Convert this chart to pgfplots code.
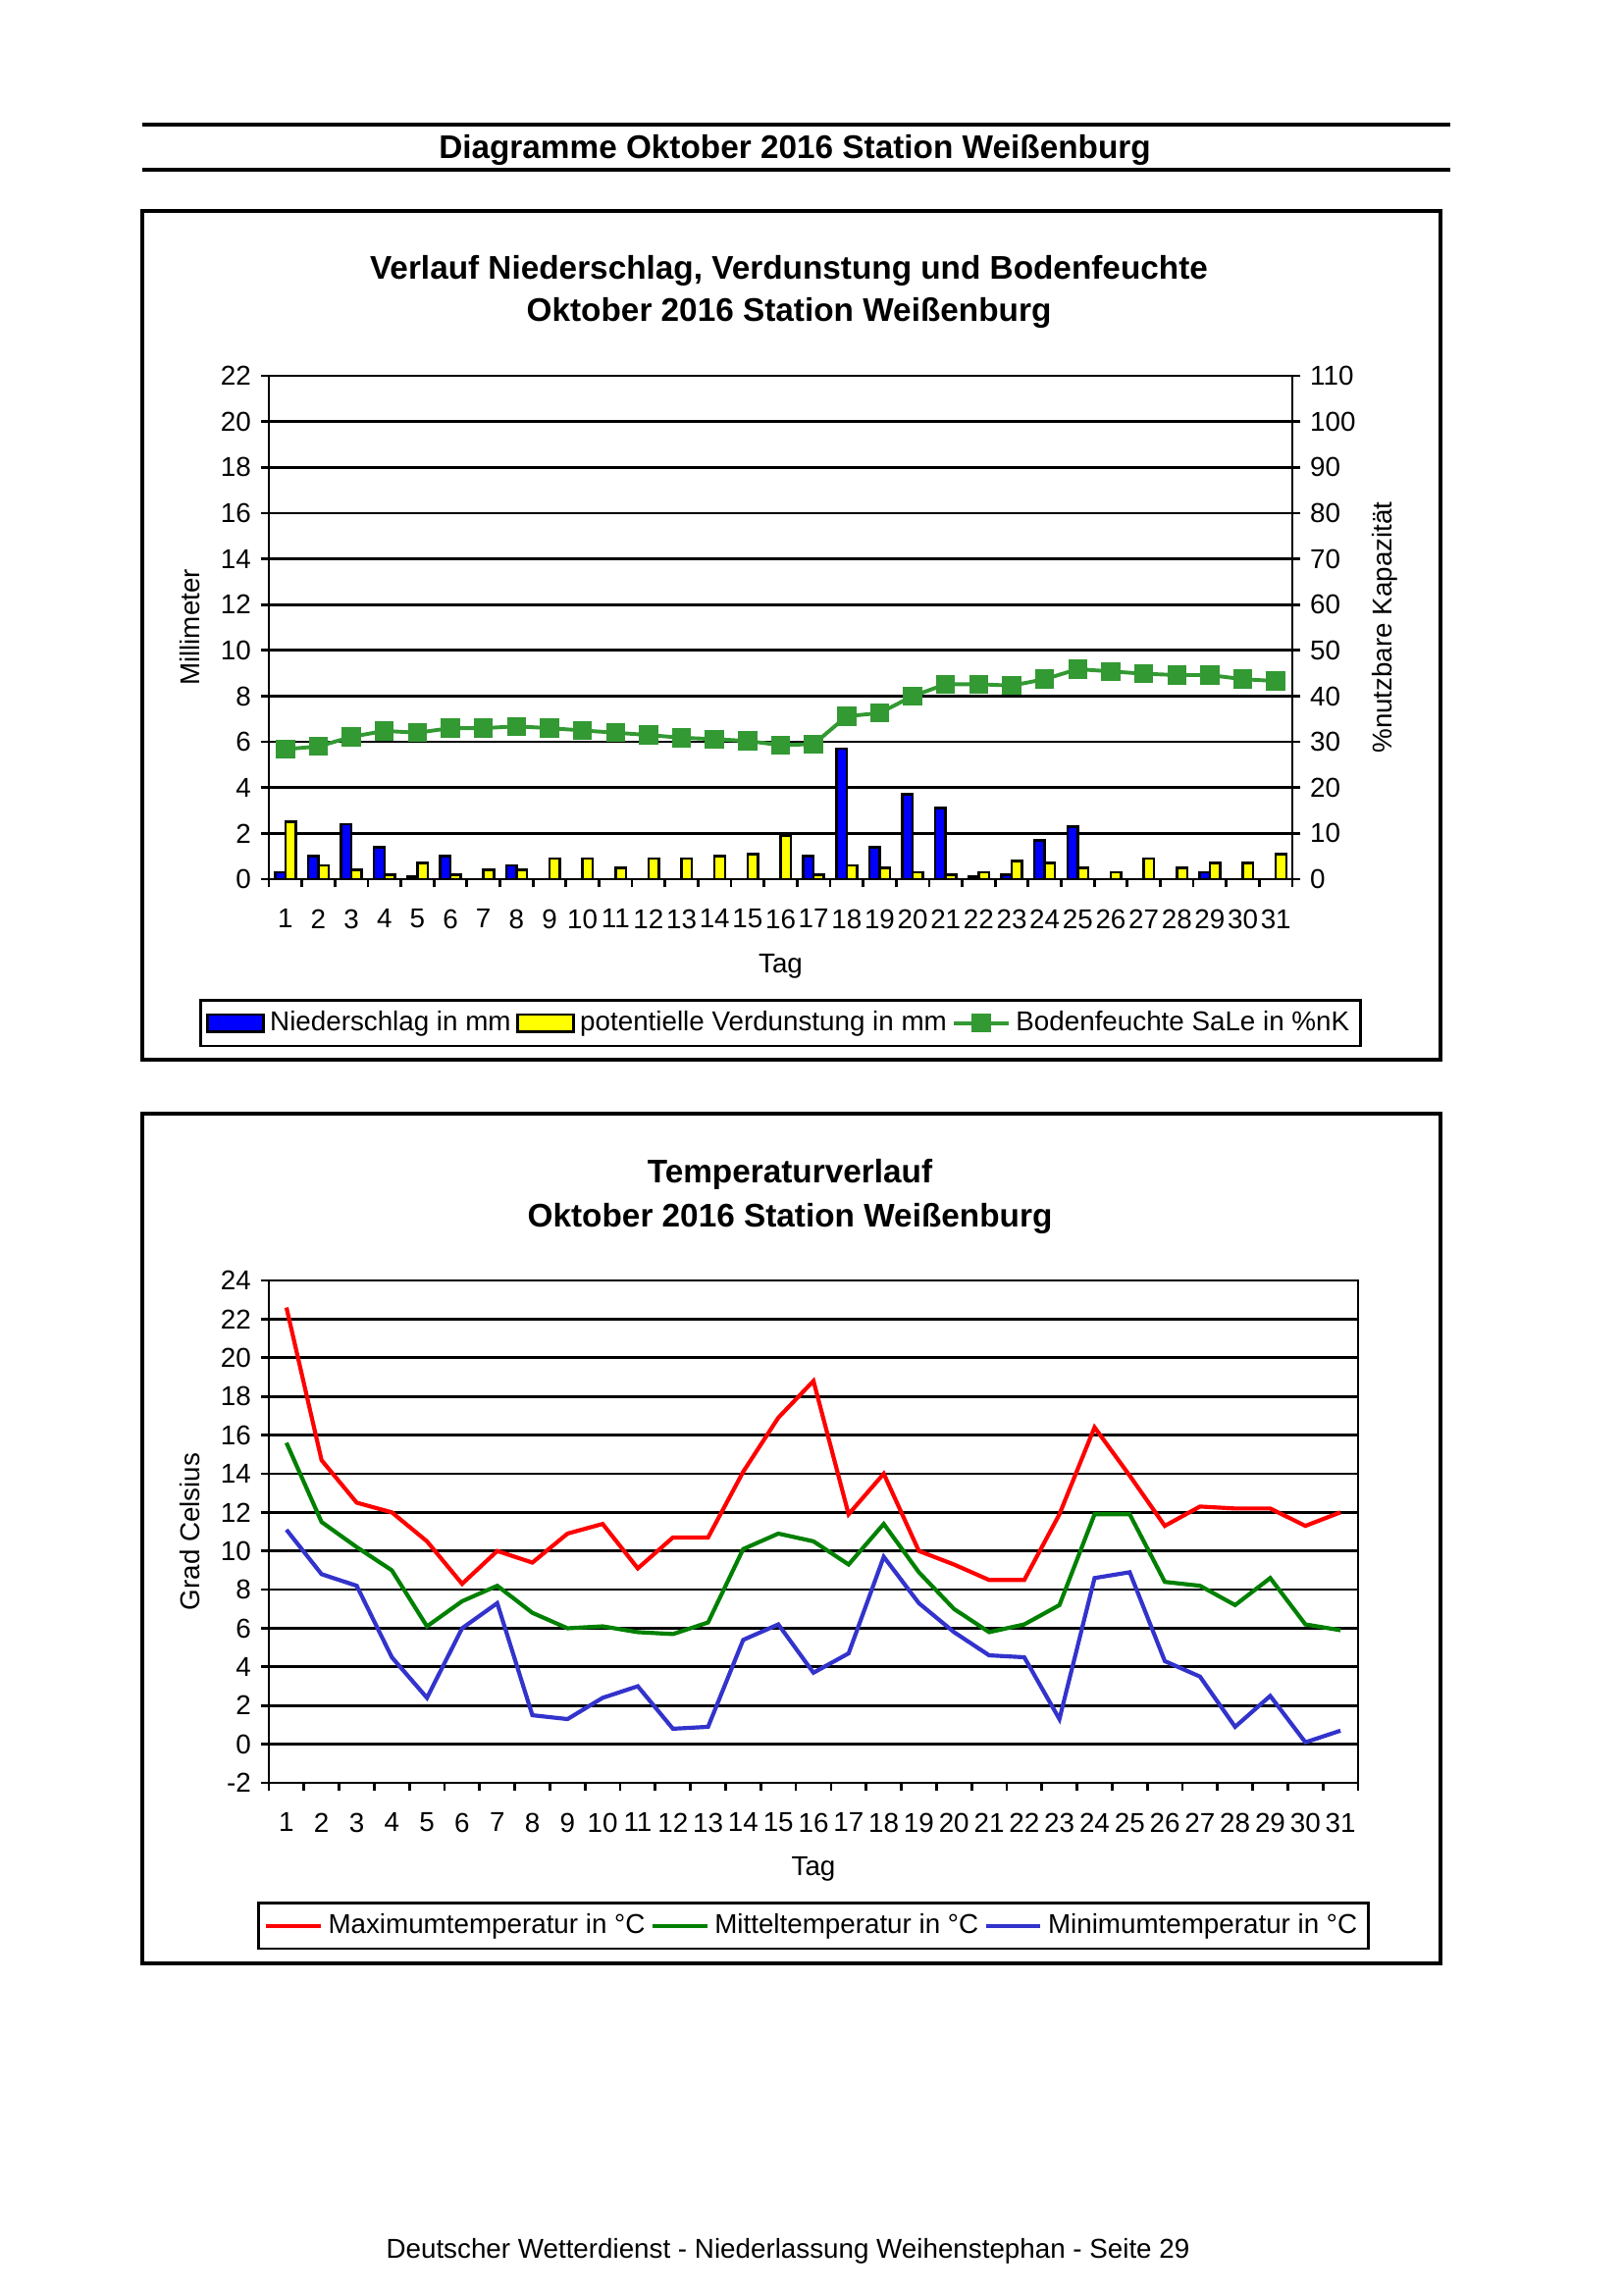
\documentclass[border=0pt]{standalone}
\usepackage{fontspec}
\setmainfont{Liberation Sans}
\usepackage{pgfplots}
\pgfplotsset{compat=1.18}

\definecolor{bargreen}{RGB}{51,153,51}
\definecolor{tgreen}{RGB}{0,128,0}
\definecolor{tblue}{RGB}{51,51,204}
\definecolor{tred}{RGB}{255,0,0}
\definecolor{bblue}{RGB}{0,0,255}
\definecolor{byellow}{RGB}{255,255,0}

\pgfplotsset{
  mystyle/.style={
    scale only axis,
    font=\fontsize{10}{12}\selectfont,
    /pgf/number format/assume math mode=true,
    axis line style={line width=1pt},
    tick style={black, line width=1pt},
    ymajorgrids, grid style={black, line width=1pt},
    tick align=outside,
    major tick length=3pt,
    xmin=0.5, xmax=31.5,
    xtick={0.5,1.5,...,31.5}, xticklabels={},
    extra x ticks={1,2,...,31},
    extra x tick labels={1,2,3,4,5,6,7,8,9,10,11,12,13,14,15,16,17,18,19,20,21,22,23,24,25,26,27,28,29,30,31},
    extra x tick style={major tick length=0pt, xticklabel style={yshift=-7.5pt}},
    xtick pos=bottom, ytick pos=left,
    legend cell align=left,
  },
  barleg/.style={legend image code/.code={\draw[##1,line width=0.9pt] (0pt,-3.2pt) rectangle (20.5pt,3.2pt);}},
  lineleg/.style={legend image code/.code={\draw[mark repeat=2,mark phase=2,##1] plot coordinates {(0pt,0pt) (10pt,0pt) (20pt,0pt)};}},
}

\begin{document}
\begin{tikzpicture}
\path[use as bounding box] (0,0) rectangle ({1653*0.36pt},{-2340*0.36pt});
\begin{scope}[x=0.36pt,y=-0.36pt]
\draw[line width=1.4pt] (145,127) -- (1478,127);
\draw[line width=1.4pt] (145,173) -- (1478,173);
\node[font=\bfseries\fontsize{12}{14}\selectfont] at (810,153) {Diagramme Oktober 2016 Station Weißenburg};
\draw[line width=1.1pt] (145,215) rectangle (1468,1080);
\draw[line width=1.1pt] (145,1135) rectangle (1468,2001);
\node[font=\bfseries\fontsize{12}{14}\selectfont] at (804,276) {Verlauf Niederschlag, Verdunstung und Bodenfeuchte};
\node[font=\bfseries\fontsize{12}{14}\selectfont] at (804,319) {Oktober 2016 Station Weißenburg};
\node[font=\bfseries\fontsize{12}{14}\selectfont] at (805,1197) {Temperaturverlauf};
\node[font=\bfseries\fontsize{12}{14}\selectfont] at (805,1242) {Oktober 2016 Station Weißenburg};
\node[font=\fontsize{10}{12}\selectfont] at (803,2294) {Deutscher Wetterdienst - Niederlassung Weihenstephan - Seite 29};
\end{scope}

% ---------------- Chart 1: bars (left axis) ----------------
\begin{axis}[mystyle,
  at={({274*0.36pt},{-896*0.36pt})}, anchor=south west,
  width={1043*0.36pt}, height={513*0.36pt},
  ymin=0, ymax=22, ytick={0,2,...,22},
  axis y line*=left,
  ylabel={Millimeter},
  ylabel style={at={(axis description cs:-0.0767,0.5)}, anchor=center},
  xlabel={Tag},
  xlabel style={at={(axis description cs:0.5,-0.1735)}, anchor=center},
  ybar, bar width=3.8pt,
]
\addplot[fill=bblue, draw=black, line width=0.9pt, bar shift=-1.9pt] coordinates {
(1,0.3) (2,1.0) (3,2.4) (4,1.4) (5,0.1) (6,1.0) (8,0.6)
(17,1.0) (18,5.7) (19,1.4) (20,3.7) (21,3.1) (22,0.1) (23,0.2) (24,1.7) (25,2.3) (29,0.3)};
\addplot[fill=byellow, draw=black, line width=0.9pt, bar shift=1.9pt] coordinates {
(1,2.5) (2,0.6) (3,0.4) (4,0.2) (5,0.7) (6,0.2) (7,0.4) (8,0.4) (9,0.9) (10,0.9)
(11,0.5) (12,0.9) (13,0.9) (14,1.0) (15,1.1) (16,1.9) (17,0.2) (18,0.6) (19,0.5) (20,0.3)
(21,0.2) (22,0.3) (23,0.8) (24,0.7) (25,0.5) (26,0.3) (27,0.9) (28,0.5) (29,0.7) (30,0.7) (31,1.1)};
\end{axis}

% ---------------- Chart 1: soil moisture (right axis) ----------------
\begin{axis}[
  scale only axis,
  font=\fontsize{10}{12}\selectfont,
  /pgf/number format/assume math mode=true,
  at={({274*0.36pt},{-896*0.36pt})}, anchor=south west,
  width={1043*0.36pt}, height={513*0.36pt},
  xmin=0.5, xmax=31.5,
  ymin=0, ymax=110, ytick={0,10,...,110},
  axis y line*=right, axis x line=none,
  axis line style={line width=1pt},
  tick style={black, line width=1pt},
  tick align=outside, major tick length=3pt,
  every axis y label/.style={at={(axis description cs:1.0901,0.5)}, rotate=90, anchor=center},
  ylabel={\%nutzbare Kapazität},
  legend columns=3,
  legend cell align=left,
  legend style={at={(0.5,-0.2378)}, anchor=north, draw=black, line width=1pt,
    font=\fontsize{10}{12}\selectfont, inner sep=2pt,
    /tikz/every even column/.append style={column sep=0pt}},
]
\addlegendimage{barleg, fill=bblue, draw=black}
\addlegendentry{Niederschlag in mm}
\addlegendimage{barleg, fill=byellow, draw=black}
\addlegendentry{potentielle Verdunstung in mm}
\addplot[lineleg, color=bargreen, line width=1.4pt, mark=square*, mark size=2.8pt, mark options={solid}] coordinates {
(1,28.4) (2,29.0) (3,31.1) (4,32.4) (5,32.0) (6,33.0) (7,33.0) (8,33.4) (9,33.0) (10,32.5)
(11,32.0) (12,31.5) (13,30.9) (14,30.6) (15,30.2) (16,29.3) (17,29.5) (18,35.6) (19,36.3) (20,40.0)
(21,42.6) (22,42.6) (23,42.3) (24,43.7) (25,45.9) (26,45.4) (27,44.9) (28,44.6) (29,44.6) (30,43.7) (31,43.3)};
\addlegendentry{Bodenfeuchte SaLe in \%nK}
\end{axis}

% ---------------- Chart 2: temperature ----------------
\begin{axis}[mystyle,
  at={({274*0.36pt},{-1817*0.36pt})}, anchor=south west,
  width={1110*0.36pt}, height={512*0.36pt},
  ymin=-2, ymax=24, ytick={-2,0,...,24},
  ylabel={Grad Celsius},
  ylabel style={at={(axis description cs:-0.0721,0.5)}, anchor=center},
  xlabel={Tag},
  xlabel style={at={(axis description cs:0.5,-0.1719)}, anchor=center},
  legend columns=3,
  legend style={at={(0.5,-0.2363)}, anchor=north, draw=black, line width=1pt,
    font=\fontsize{10}{12}\selectfont, inner sep=2pt,
    /tikz/every even column/.append style={column sep=0pt}},
]
\addplot[lineleg, color=tred, line width=1.5pt, mark=none] coordinates {
(1,22.6) (2,14.7) (3,12.5) (4,12.0) (5,10.5) (6,8.3) (7,10.0) (8,9.4) (9,10.9) (10,11.4)
(11,9.1) (12,10.7) (13,10.7) (14,14.1) (15,16.9) (16,18.8) (17,11.9) (18,14.0) (19,10.0) (20,9.3)
(21,8.5) (22,8.5) (23,11.9) (24,16.4) (25,13.9) (26,11.3) (27,12.3) (28,12.2) (29,12.2) (30,11.3) (31,12.0)};
\addlegendentry{Maximumtemperatur in °C}
\addplot[lineleg, color=tgreen, line width=1.5pt, mark=none] coordinates {
(1,15.6) (2,11.5) (3,10.2) (4,9.0) (5,6.1) (6,7.4) (7,8.2) (8,6.8) (9,6.0) (10,6.1)
(11,5.8) (12,5.7) (13,6.3) (14,10.1) (15,10.9) (16,10.5) (17,9.3) (18,11.4) (19,8.9) (20,7.0)
(21,5.8) (22,6.2) (23,7.2) (24,11.9) (25,11.9) (26,8.4) (27,8.2) (28,7.2) (29,8.6) (30,6.2) (31,5.9)};
\addlegendentry{Mitteltemperatur in °C}
\addplot[lineleg, color=tblue, line width=1.5pt, mark=none] coordinates {
(1,11.1) (2,8.8) (3,8.2) (4,4.5) (5,2.4) (6,6.0) (7,7.3) (8,1.5) (9,1.3) (10,2.4)
(11,3.0) (12,0.8) (13,0.9) (14,5.4) (15,6.2) (16,3.7) (17,4.7) (18,9.7) (19,7.3) (20,5.8)
(21,4.6) (22,4.5) (23,1.3) (24,8.6) (25,8.9) (26,4.3) (27,3.5) (28,0.9) (29,2.5) (30,0.1) (31,0.7)};
\addlegendentry{Minimumtemperatur in °C}
\end{axis}
\end{tikzpicture}
\end{document}
